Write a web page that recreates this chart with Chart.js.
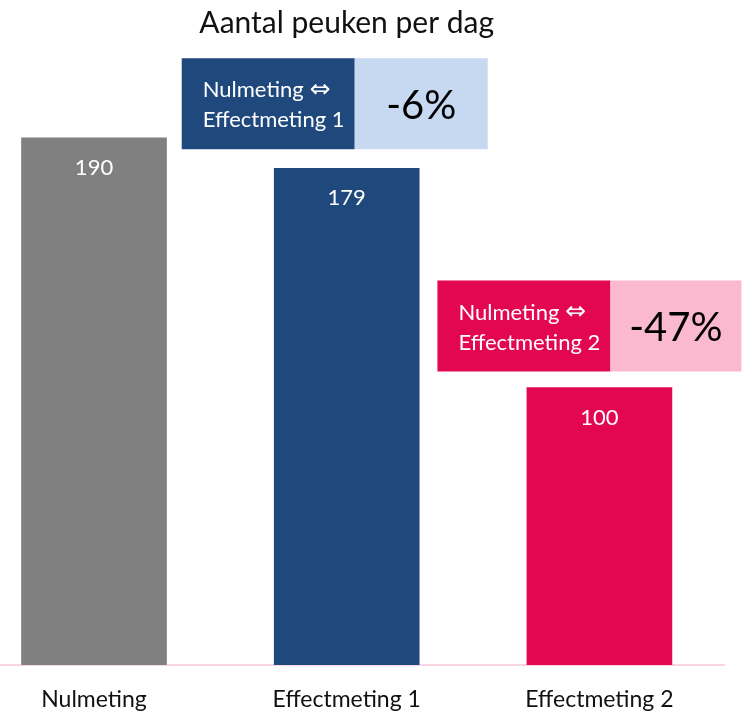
<!DOCTYPE html>
<html>
<head>
<meta charset="utf-8">
<script src="https://cdn.jsdelivr.net/npm/chart.js@4"></script>
<style>
  body { margin: 0; background: #fff; overflow: hidden; }
</style>
</head>
<body>
<canvas id="chart" width="742" height="711"></canvas>
<script>
const titleText = 'Aantal peuken per dag';
const categories = ['Nulmeting', 'Effectmeting 1', 'Effectmeting 2'];
const values = [190, 179, 100];
const barColors = ['#808080', '#1F497D', '#E30650'];
// comparison boxes: which bar they sit above, text, change
const compareBar = [1, 2];
const compareFrom = ['Nulmeting', 'Nulmeting'];
const compareTo = ['Effectmeting 1', 'Effectmeting 2'];
const compareChange = ['-6%', '-47%'];
const compareDark = ['#1F497D', '#E30650'];
const compareLight = ['#C6D9F0', '#FBB9CF'];

const FONT = 'Lato, "Noto Sans", sans-serif';

const overlay = {
    id: 'overlay',
    afterDatasetsDraw(chart) {
        const ctx = chart.ctx;
        const xs = chart.scales.x;
        const meta = chart.getDatasetMeta(0);
        ctx.save();
        // title over middle category
        ctx.fillStyle = '#111';
        ctx.font = '30px ' + FONT;
        ctx.textAlign = 'center';
        ctx.textBaseline = 'middle';
        ctx.fillText(titleText, xs.getPixelForValue(1), 23);

        // values inside bars
        ctx.fillStyle = '#fff';
        ctx.font = '22px ' + FONT;
        meta.data.forEach((bar, i) => {
            ctx.fillText(values[i], bar.x, bar.y + 30);
        });

        // comparison boxes
        compareBar.forEach((b, i) => {
            const bar = meta.data[b];
            const bottom = bar.y - (i == 0 ? 19 : 16);
            const top = bottom - 91;
            const left = bar.x - (i == 0 ? 165 : 162);
            const darkW = 173;
            const lightW = i == 0 ? 133 : 131;
            ctx.fillStyle = compareDark[i];
            ctx.fillRect(left, top, darkW, bottom - top);
            ctx.fillStyle = compareLight[i];
            ctx.fillRect(left + darkW, top, lightW, bottom - top);

            ctx.fillStyle = '#fff';
            ctx.font = '22px ' + FONT;
            ctx.textAlign = 'left';
            ctx.fillText(compareFrom[i], left + 21, top + 32);
            const w = ctx.measureText(compareFrom[i]).width;
            ctx.font = '25px "DejaVu Sans", sans-serif';
            ctx.fillText('\u21D4', left + 21 + w + 6, top + 32);
            ctx.font = '22px ' + FONT;
            ctx.fillText(compareTo[i], left + 21, top + 62);

            ctx.fillStyle = '#000';
            ctx.font = '40px ' + FONT;
            ctx.textAlign = 'center';
            ctx.fillText(compareChange[i], left + darkW + lightW / 2, top + 48);
        });
        ctx.restore();
    }
};

document.addEventListener('DOMContentLoaded', () => {
    const chartData = {
        datasets: [{
            data: values.map((v, i) => ({x: i, y: v})),
            backgroundColor: barColors,
            barThickness: 145,
            borderWidth: 0
        }]
    };

    const chartConfig = {
        type: 'bar',
        data: chartData,
        options: {
            responsive: false,
            animation: false,
            layout: { padding: { top: 60, right: 18, left: 0, bottom: 0 } },
            scales: {
                x: {
                    type: 'linear',
                    offset: false,
                    min: -0.372,
                    max: 2.493,
                    grid: { display: false, offset: false, drawTicks: false },
                    border: { display: true, color: '#F9D5E1', width: 2 },
                    afterBuildTicks: (scale) => {
                        scale.ticks = categories.map((c, i) => ({value: i}));
                    },
                    afterFit: (scale) => { scale.height = 46; },
                    ticks: {
                        autoSkip: false,
                        maxRotation: 0,
                        padding: 21,
                        color: '#111',
                        font: { family: FONT, size: 23 },
                        callback: (v) => categories[v]
                    }
                },
                y: {
                    display: false,
                    min: 0,
                    max: 218
                }
            },
            plugins: {
                legend: { display: false },
                tooltip: { enabled: false }
            }
        },
        plugins: [overlay]
    };

    new Chart(document.getElementById('chart').getContext('2d'), chartConfig);
});
</script>
</body>
</html>
